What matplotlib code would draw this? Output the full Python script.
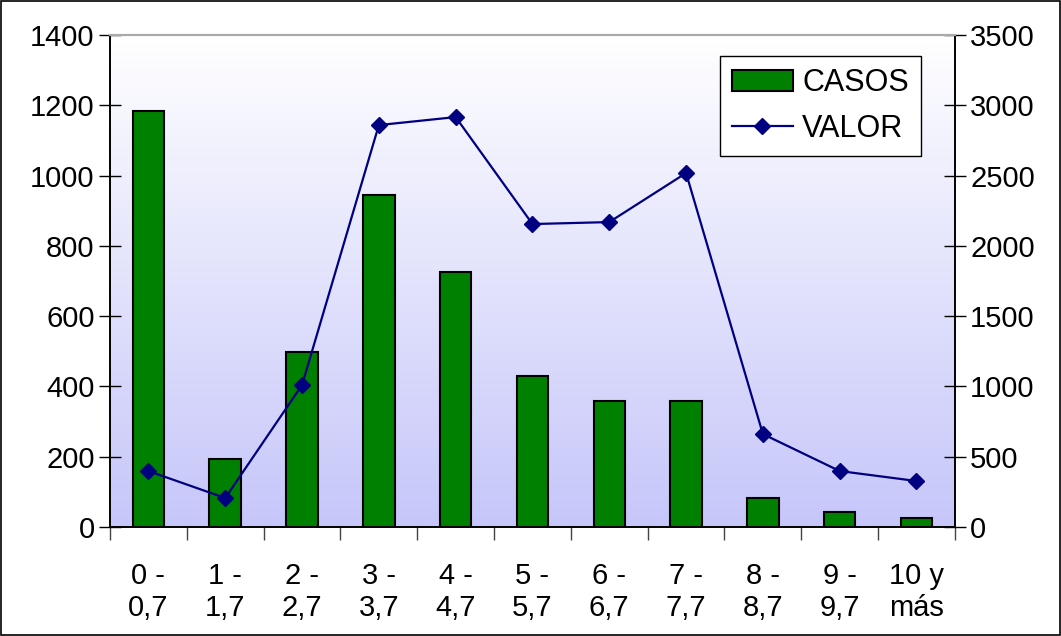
import numpy as np
import matplotlib.pyplot as plt
from matplotlib.colors import LinearSegmentedColormap

plt.rcParams['font.family'] = ['Liberation Sans', 'DejaVu Sans']
plt.rcParams['font.size'] = 21

categories = ['0 -\n0,7', '1 -\n1,7', '2 -\n2,7', '3 -\n3,7', '4 -\n4,7', '5 -\n5,7',
              '6 -\n6,7', '7 -\n7,7', '8 -\n8,7', '9 -\n9,7', '10 y\nmás']
casos = [1184, 193, 498, 945, 726, 430, 359, 359, 83, 43, 26]
valor = [398, 206, 1010, 2859, 2916, 2155, 2169, 2518, 661, 398, 327]

fig = plt.figure(figsize=(10.61, 6.36), dpi=100)
ax1 = fig.add_axes([0.1037, 0.1714, 0.7963, 0.7736])
ax2 = ax1.twinx()

x = np.arange(len(categories))

# gradient background
cmap = LinearSegmentedColormap.from_list('bg', ['#c6c6fa', '#ffffff'])
grad = np.linspace(0, 1, 256).reshape(-1, 1)
ax1.imshow(grad, cmap=cmap, aspect='auto', origin='lower',
           extent=[-0.5, len(categories) - 0.5, 0, 1400], zorder=0)

ax1.bar(x, casos, width=0.41, color='#008000', edgecolor='black', linewidth=1.5,
        label='CASOS', zorder=2)
ax2.plot(x, valor, color='#000080', marker='D', markersize=8, linewidth=1.6,
         label='VALOR', zorder=3)

ax1.set_xlim(-0.5, len(categories) - 0.5)
ax1.set_ylim(0, 1400)
ax2.set_ylim(0, 3500)
ax1.set_yticks(np.arange(0, 1401, 200))
ax2.set_yticks(np.arange(0, 3501, 500))

ax1.set_xticks(x)
ax1.set_xticklabels(categories, linespacing=1.2)
ax1.set_xticks(np.arange(-0.5, len(categories), 1), minor=True)
ax1.tick_params(axis='x', which='major', length=0, pad=25)
ax1.tick_params(axis='x', which='minor', length=9, width=1, direction='out', color='#444444')
ax1.tick_params(axis='y', direction='inout', length=16, width=1, pad=3)
ax2.tick_params(axis='y', direction='inout', length=16, width=1, pad=3)

for ax in (ax1, ax2):
    ax.spines['top'].set_color('#aaaaaa')
    ax.spines['top'].set_linewidth(1.5)
    ax.spines['left'].set_linewidth(1.2)
    ax.spines['right'].set_linewidth(1.2)
    ax.spines['bottom'].set_linewidth(1.2)

h1, l1 = ax1.get_legend_handles_labels()
h2, l2 = ax2.get_legend_handles_labels()
leg = ax2.legend(h1 + h2, l1 + l2, loc='upper right', bbox_to_anchor=(0.960, 0.957),
                 borderaxespad=0, fancybox=False, edgecolor='black', framealpha=1,
                 fontsize=22, handlelength=2.0, handletextpad=0.3, borderpad=0.4,
                 labelspacing=0.5)
leg.get_frame().set_linewidth(1)

fig.patches.append(plt.Rectangle((0.001, 0.001), 0.998, 0.998, transform=fig.transFigure,
                                 fill=False, edgecolor='black', linewidth=1.2))

fig.savefig('out.png', dpi=100)
